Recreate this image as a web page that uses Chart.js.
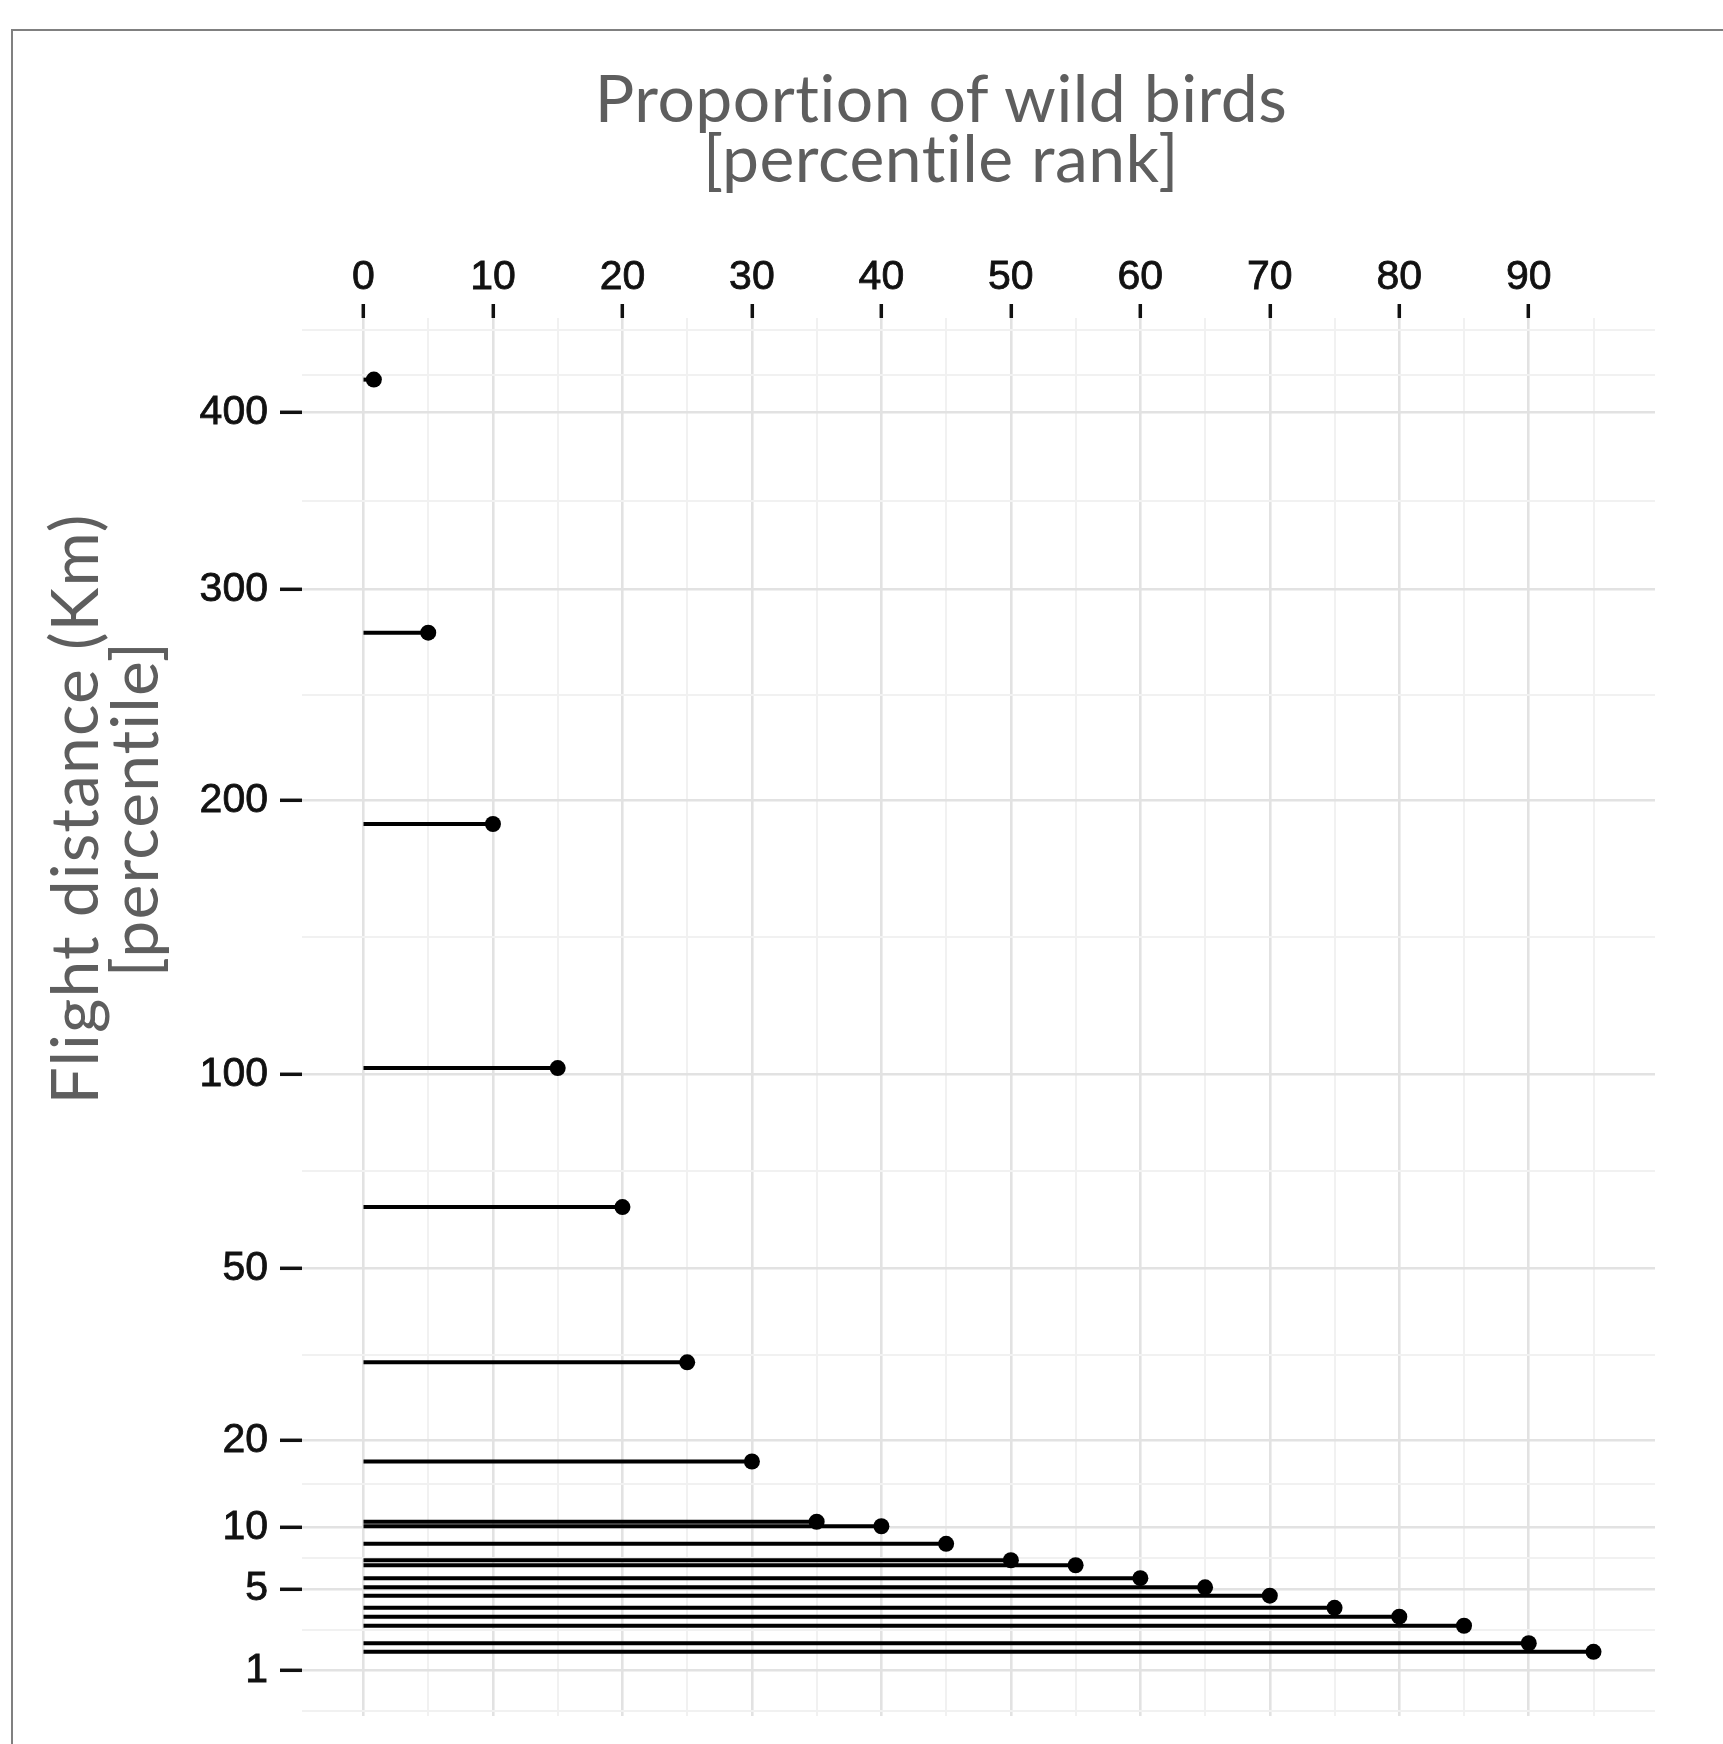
<!DOCTYPE html>
<html>
<head>
<meta charset="utf-8">
<script src="https://cdn.jsdelivr.net/npm/chart.js@4.4.0/dist/chart.umd.min.js"></script>
<style>
html, body { margin: 0; padding: 0; background: #fff; }
#wrap { position: relative; width: 1723px; height: 1744px; overflow: hidden; }
#frame { position: absolute; left: 11px; top: 29px; right: -10px; bottom: -10px;
  border-top: 2px solid #808080; border-left: 2px solid #808080; }
canvas { position: absolute; left: 0; top: 0; }
.ttl { position: absolute; font-family: Lato, sans-serif; color: #5e5e5e;
  text-align: center; white-space: nowrap;
  font-variant-ligatures: none; font-feature-settings: "liga" 0; }
#xTitle { left: 441px; width: 1000px; top: 67px; font-size: 66px; line-height: 60px;
  letter-spacing: 0.5px; }
#yTitle { left: -297px; top: 749px; width: 800px; height: 120px; font-size: 66px;
  line-height: 60px; letter-spacing: 1.1px; transform: rotate(-90deg); }
</style>
</head>
<body>
<div id="wrap">
  <div id="frame"></div>
  <canvas id="myChart" width="1723" height="1744"></canvas>
  <div class="ttl" id="xTitle">Proportion of wild birds<br>[percentile rank]</div>
  <div class="ttl" id="yTitle">Flight distance (Km)<br>[percentile]</div>
</div>
<script>
// data
const pctRank = [0.8, 5, 10, 15, 20, 25, 30, 35, 40, 45, 50, 55, 60, 65, 70, 75, 80, 85, 90, 95];
const distKm = [420, 278, 190, 102, 64, 32, 17.3, 10.56, 10.12, 8.5, 7.12, 6.72, 5.75, 5.1, 4.55, 3.8, 3.3, 2.82, 2.0, 1.65];

// axis breaks
const xMajor = [0, 10, 20, 30, 40, 50, 60, 70, 80, 90];
const xMinor = [5, 15, 25, 35, 45, 55, 65, 75, 85, 95];
const yMajor = [1, 5, 10, 20, 50, 100, 200, 300, 400];
const yMinor = [0.15, 2.6, 7.3, 14.6, 33.3, 72.9, 145.7, 247.5, 348.2, 423, 451];

// square root scale (like scale_y_sqrt)
class SqrtScale extends Chart.LinearScale {
  configure() {
    super.configure();
    this._rootStart = Math.sqrt(this.min);
    this._rootRange = Math.sqrt(this.max) - this._rootStart;
  }
  getPixelForValue(value) {
    return this.getPixelForDecimal((Math.sqrt(value) - this._rootStart) / this._rootRange);
  }
  getValueForPixel(pixel) {
    const r = this._rootStart + this.getDecimalForPixel(pixel) * this._rootRange;
    return r * r;
  }
}
SqrtScale.id = 'sqrt';
SqrtScale.defaults = Chart.LinearScale.defaults;
Chart.register(SqrtScale);

const datasets = pctRank.map((p, i) => ({
  data: [{x: 0, y: distKm[i]}, {x: p, y: distKm[i]}],
  showLine: true,
  borderColor: '#000',
  backgroundColor: '#000',
  borderWidth: 4,
  pointRadius: [0, 8],
  pointBorderWidth: 0,
  pointHoverRadius: [0, 8]
}));

function isMajor(list, ctx) {
  return ctx.tick && list.includes(ctx.tick.value);
}

const tickFont = {family: '"Liberation Sans", Arial, sans-serif', size: 41};

// keep the panel exactly where the fixed sizes put it
function noPad(s) {
  s.paddingTop = 0; s.paddingBottom = 0; s.paddingLeft = 0; s.paddingRight = 0;
}

const myChart = new Chart(document.getElementById('myChart'), {
  type: 'scatter',
  data: {datasets: datasets},
  options: {
    responsive: false,
    animation: false,
    devicePixelRatio: 1,
    layout: {padding: {left: 0, top: 0, right: 68, bottom: 28}},
    plugins: {legend: {display: false}, tooltip: {enabled: false}},
    scales: {
      x: {
        type: 'linear',
        position: 'top',
        min: -4.75,
        max: 99.75,
        bounds: 'data',
        afterFit: (s) => { s.height = 318; noPad(s); },
        afterBuildTicks: (s) => {
          s.ticks = xMajor.concat(xMinor).sort((a, b) => a - b).map(v => ({value: v}));
        },
        border: {display: false},
        grid: {
          color: (ctx) => isMajor(xMajor, ctx) ? '#e2e2e2' : '#f1f1f1',
          lineWidth: (ctx) => isMajor(xMajor, ctx) ? 2.6 : 2,
          tickColor: (ctx) => isMajor(xMajor, ctx) ? '#111' : 'rgba(0,0,0,0)',
          tickWidth: 3.5,
          tickLength: 14
        },
        ticks: {
          autoSkip: false,
          maxRotation: 0,
          padding: 2,
          color: '#111',
          textStrokeColor: '#111',
          textStrokeWidth: 0.8,
          font: tickFont,
          callback: (v) => xMajor.includes(v) ? String(v) : ''
        }
      },
      y: {
        type: 'sqrt',
        min: 0.1,
        max: 459,
        bounds: 'data',
        afterFit: (s) => { s.width = 302; noPad(s); },
        afterBuildTicks: (s) => {
          s.ticks = yMajor.concat(yMinor).sort((a, b) => a - b).map(v => ({value: v}));
        },
        border: {display: false},
        grid: {
          color: (ctx) => isMajor(yMajor, ctx) ? '#e2e2e2' : '#f1f1f1',
          lineWidth: (ctx) => isMajor(yMajor, ctx) ? 2.6 : 2,
          tickColor: (ctx) => isMajor(yMajor, ctx) ? '#111' : 'rgba(0,0,0,0)',
          tickWidth: 3.5,
          tickLength: 22
        },
        ticks: {
          autoSkip: false,
          padding: 12,
          color: '#111',
          textStrokeColor: '#111',
          textStrokeWidth: 0.8,
          font: tickFont,
          callback: (v) => yMajor.includes(v) ? String(v) : ''
        }
      }
    }
  }
});
</script>
</body>
</html>
